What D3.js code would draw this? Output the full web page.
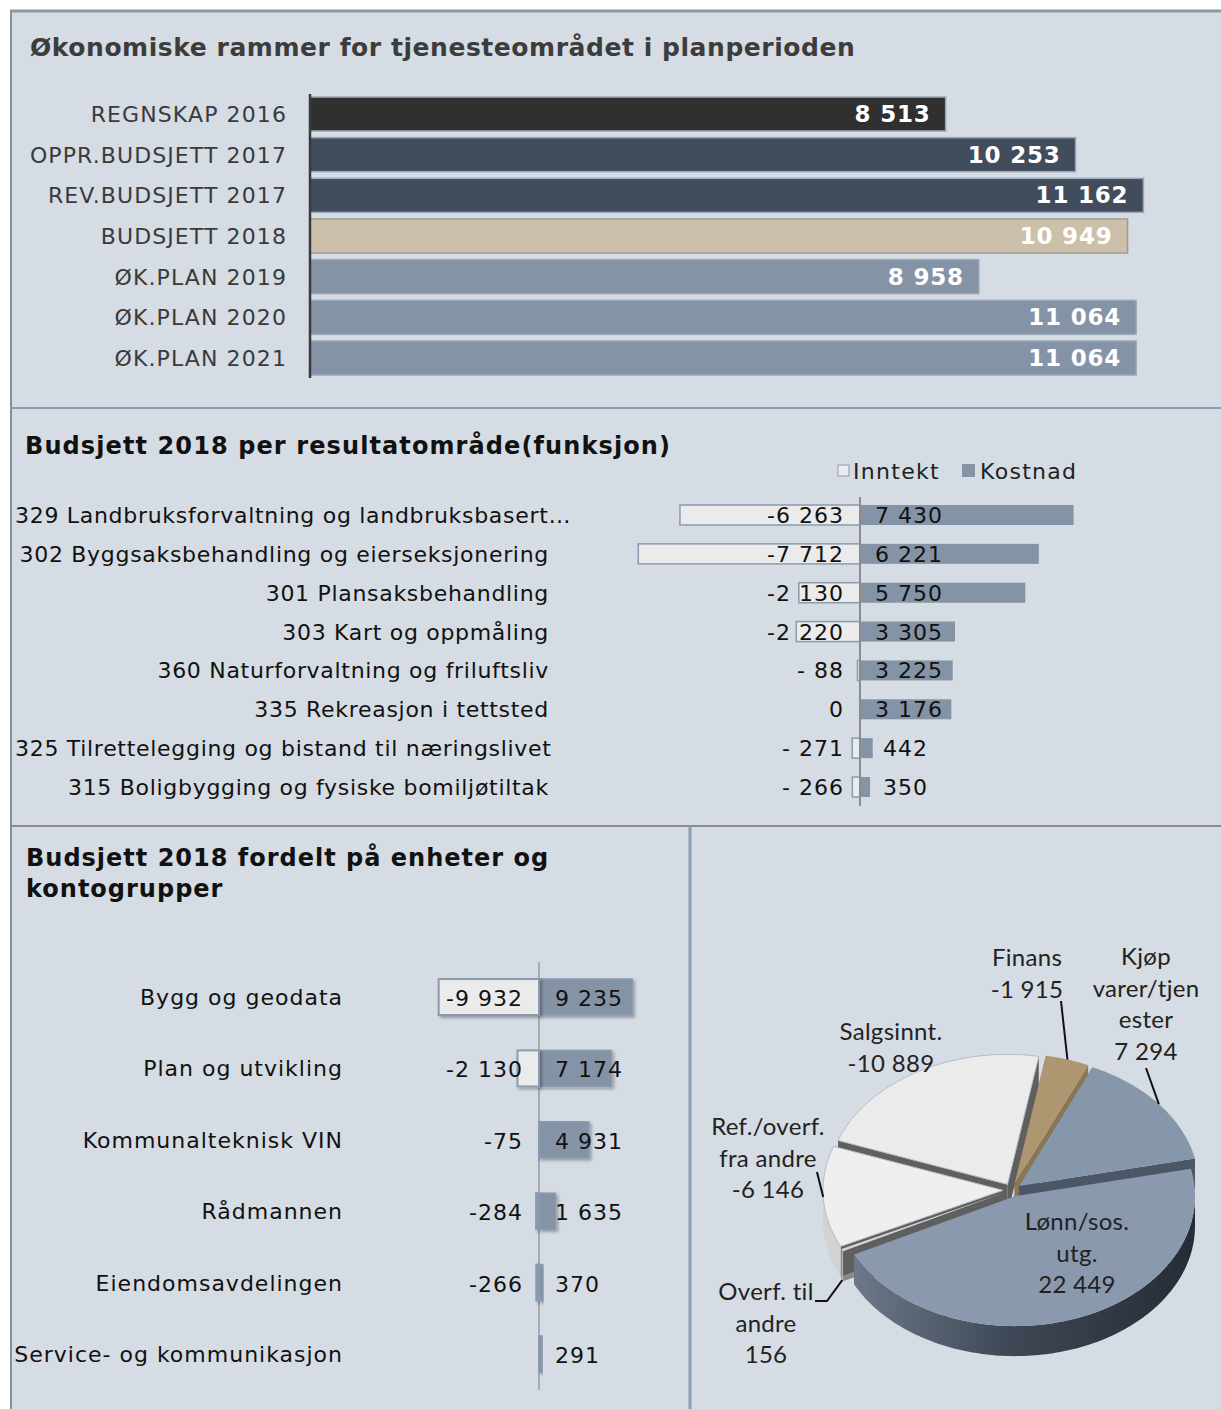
<!DOCTYPE html>
<html lang="no">
<head>
<meta charset="UTF-8">
<title>Økonomiske rammer for tjenesteområdet</title>
<style>
  body { margin: 0; background: #fff; }
  svg { display: block; font-family: "DejaVu Sans", Verdana, sans-serif; }
</style>
</head>
<body>
<div id="chart"></div>
<script src="https://d3js.org/d3.v7.min.js"></script>
<script>
// ---- data ----
const periodLabels = ["REGNSKAP 2016", "OPPR.BUDSJETT 2017", "REV.BUDSJETT 2017", "BUDSJETT 2018",
                      "ØK.PLAN 2019", "ØK.PLAN 2020", "ØK.PLAN 2021"];
const periodValues = [8513, 10253, 11162, 10949, 8958, 11064, 11064];

const funcLabels = ["329 Landbruksforvaltning og landbruksbasert…", "302 Byggsaksbehandling og eierseksjonering",
                    "301 Plansaksbehandling", "303 Kart og oppmåling", "360 Naturforvaltning og friluftsliv",
                    "335 Rekreasjon i tettsted", "325 Tilrettelegging og bistand til næringslivet",
                    "315 Boligbygging og fysiske bomiljøtiltak"];
const funcIncome = [-6263, -7712, -2130, -2220, -88, 0, -271, -266];
const funcCost = [7430, 6221, 5750, 3305, 3225, 3176, 442, 350];
const seriesNames = ["Inntekt", "Kostnad"];

const unitLabels = ["Bygg og geodata", "Plan og utvikling", "Kommunalteknisk VIN", "Rådmannen",
                    "Eiendomsavdelingen", "Service- og kommunikasjon"];
const unitIncome = [-9932, -2130, -75, -284, -266, 0];
const unitCost = [9235, 7174, 4931, 1635, 370, 291];

const pieLabels = [["Finans"], ["Kjøp", "varer/tjen", "ester"], ["Lønn/sos.", "utg."], ["Overf. til", "andre"],
                   ["Ref./overf.", "fra andre"], ["Salgsinnt."]];
const pieValues = [-1915, 7294, 22449, 156, -6146, -10889];

// ---- setup ----
const W = 1221, H = 1409;
const locale = d3.formatLocale({decimal: ",", thousands: " ", grouping: [3], currency: ["", ""], minus: "-"});
const fmt = locale.format(",d");

const svg = d3.select("#chart").append("svg").attr("width", W).attr("height", H);
const defs = svg.append("defs");
const shadow = defs.append("filter").attr("id", "shadow").attr("x", "-20%").attr("y", "-20%")
  .attr("width", "150%").attr("height", "160%");
shadow.append("feDropShadow").attr("dx", 2).attr("dy", 2).attr("stdDeviation", 1.5)
  .attr("flood-color", "#000").attr("flood-opacity", 0.3);
const lonnSide = defs.append("linearGradient").attr("id", "lonnSide");
lonnSide.append("stop").attr("offset", "0%").attr("stop-color", "#6d7888");
lonnSide.append("stop").attr("offset", "45%").attr("stop-color", "#3f4856");
lonnSide.append("stop").attr("offset", "100%").attr("stop-color", "#262c35");

// panel backgrounds + frames
svg.append("rect").attr("x", 10).attr("y", 10).attr("width", W - 10).attr("height", H - 10).attr("fill", "#d5dce3");
svg.append("line").attr("x1", 10).attr("x2", W).attr("y1", 11).attr("y2", 11).attr("stroke", "#8897aa").attr("stroke-width", 3);
svg.append("line").attr("x1", 11).attr("x2", 11).attr("y1", 10).attr("y2", H).attr("stroke", "#8a8f96").attr("stroke-width", 2);
svg.append("line").attr("x1", 10).attr("x2", W).attr("y1", 408).attr("y2", 408).attr("stroke", "#8b9bb0").attr("stroke-width", 2);
svg.append("line").attr("x1", 10).attr("x2", W).attr("y1", 826).attr("y2", 826).attr("stroke", "#8a8a8a").attr("stroke-width", 2);
svg.append("line").attr("x1", 690).attr("x2", 690).attr("y1", 826).attr("y2", H).attr("stroke", "#8b9bb0").attr("stroke-width", 3);

// ================= panel 1 =================
svg.append("text").attr("x", 30).attr("y", 56).attr("font-size", 25).attr("font-weight", "bold")
  .attr("letter-spacing", 0.55).attr("fill", "#3c3c3c")
  .text("Økonomiske rammer for tjenesteområdet i planperioden");

const y1 = d3.scalePoint().domain(periodLabels).range([114, 358]);
const x1 = d3.scaleLinear().domain([0, 12000]).range([310, 1206]);
const periodColors = ["#303030", "#414d5c", "#414d5c", "#cdc0aa", "#8593a6", "#8593a6", "#8593a6"];
const p1 = svg.append("g");
p1.selectAll("rect").data(periodValues).join("rect")
  .attr("x", x1(0)).attr("y", (d, i) => y1(periodLabels[i]) - 17)
  .attr("width", d => x1(d) - x1(0)).attr("height", 34)
  .attr("fill", (d, i) => periodColors[i])
  .attr("stroke", (d, i) => i === 3 ? "#a09a90" : "#9aa7b7").attr("stroke-width", 1.5);
p1.selectAll("text.val").data(periodValues).join("text").attr("class", "val")
  .attr("x", d => x1(d) - 15).attr("y", (d, i) => y1(periodLabels[i]) + 8)
  .attr("text-anchor", "end").attr("font-size", 23).attr("font-weight", "bold")
  .attr("letter-spacing", 0.8).attr("fill", "#fff")
  .text(d => fmt(d));
p1.selectAll("text.lab").data(periodLabels).join("text").attr("class", "lab")
  .attr("x", 287).attr("y", d => y1(d) + 8).attr("text-anchor", "end")
  .attr("font-size", 22).attr("letter-spacing", 1.1).attr("fill", "#3a3a3a").text(d => d);
p1.append("line").attr("x1", 310).attr("x2", 310).attr("y1", 94).attr("y2", 378)
  .attr("stroke", "#3a3a3a").attr("stroke-width", 2.5);

// ================= panel 2 =================
svg.append("text").attr("x", 25).attr("y", 454).attr("font-size", 24).attr("font-weight", "bold")
  .attr("letter-spacing", 1.1).attr("fill", "#111").text("Budsjett 2018 per resultatområde(funksjon)");

// legend
const leg = svg.append("g").attr("font-size", 22).attr("letter-spacing", 1.3).attr("fill", "#222");
leg.append("rect").attr("x", 838).attr("y", 465).attr("width", 11).attr("height", 11)
  .attr("fill", "#ececec").attr("stroke", "#8a9bb0");
leg.append("text").attr("x", 853).attr("y", 479).text(seriesNames[0]);
leg.append("rect").attr("x", 962).attr("y", 464).attr("width", 13).attr("height", 13).attr("fill", "#8593a6");
leg.append("text").attr("x", 980).attr("y", 479).text(seriesNames[1]);

const y2 = d3.scalePoint().domain(funcLabels).range([515, 787]);
const x2 = d3.scaleLinear().domain([-8000, 8000]).range([630, 1090]);
const fmtNeg2 = v => (v < 0 && v > -1000) ? "- " + fmt(-v) : fmt(v);
const p2 = svg.append("g");
p2.selectAll("rect.inc").data(funcIncome).join("rect").attr("class", "inc")
  .attr("x", d => x2(d)).attr("y", (d, i) => y2(funcLabels[i]) - 10)
  .attr("width", d => x2(0) - x2(d)).attr("height", 20)
  .attr("fill", "#ebebeb").attr("stroke", "#8a9bb0").attr("stroke-width", d => d === 0 ? 0 : 1.5);
p2.selectAll("rect.cost").data(funcCost).join("rect").attr("class", "cost")
  .attr("x", x2(0)).attr("y", (d, i) => y2(funcLabels[i]) - 10)
  .attr("width", d => x2(d) - x2(0)).attr("height", 20).attr("fill", "#8593a6");
p2.append("line").attr("x1", x2(0)).attr("x2", x2(0)).attr("y1", 497).attr("y2", 806)
  .attr("stroke", "#8c8c8c").attr("stroke-width", 2);
p2.selectAll("text.inc").data(funcIncome).join("text").attr("class", "inc")
  .attr("x", 844).attr("y", (d, i) => y2(funcLabels[i]) + 8).attr("text-anchor", "end")
  .attr("font-size", 22).attr("letter-spacing", 1).attr("fill", "#111").text(d => fmtNeg2(d));
p2.selectAll("text.cost").data(funcCost).join("text").attr("class", "cost")
  .attr("x", (d) => x2(d) - x2(0) > 40 ? 875 : 883).attr("y", (d, i) => y2(funcLabels[i]) + 8)
  .attr("font-size", 22).attr("letter-spacing", 1).attr("fill", "#111").text(d => fmt(d));
p2.selectAll("text.lab").data(funcLabels).join("text").attr("class", "lab")
  .attr("x", 549).attr("y", d => y2(d) + 8).attr("text-anchor", "end")
  .attr("font-size", 22).attr("letter-spacing", 0.7).attr("fill", "#111").text(d => d)
  .each(function () {
    if (this.getComputedTextLength() > 535) d3.select(this).attr("x", 15).attr("text-anchor", "start");
  });

// ================= panel 3 =================
svg.append("text").attr("font-size", 24).attr("font-weight", "bold").attr("letter-spacing", 1)
  .attr("fill", "#111")
  .selectAll("tspan").data(["Budsjett 2018 fordelt på enheter og", "kontogrupper"]).join("tspan")
  .attr("x", 26).attr("y", (d, i) => 866 + i * 31).text(d => d);

const y3 = d3.scalePoint().domain(unitLabels).range([997, 1354]);
const x3 = d3.scaleLinear().domain([-10000, 10000]).range([438, 640]);
const p3 = svg.append("g");
p3.append("line").attr("x1", x3(0)).attr("x2", x3(0)).attr("y1", 962).attr("y2", 1390)
  .attr("stroke", "#7a7a7a").attr("stroke-width", 1);
p3.selectAll("rect.cost").data(unitCost).join("rect").attr("class", "cost")
  .attr("x", x3(0)).attr("y", (d, i) => y3(unitLabels[i]) - 18)
  .attr("width", d => x3(d) - x3(0)).attr("height", 36)
  .attr("fill", "#8593a6").attr("stroke", "#8a9bb0").attr("stroke-width", 1.5).attr("filter", "url(#shadow)");
p3.selectAll("rect.inc").data(unitIncome).join("rect").attr("class", "inc")
  .attr("x", d => x3(d)).attr("y", (d, i) => y3(unitLabels[i]) - 18)
  .attr("width", d => x3(0) - x3(d)).attr("height", 36)
  .attr("fill", d => d > -500 ? "#8593a6" : "#ebebeb").attr("stroke", "#8a9bb0")
  .attr("stroke-width", d => d === 0 ? 0 : 2).attr("filter", "url(#shadow)");
p3.selectAll("text.inc").data(unitIncome).join("text").attr("class", "inc")
  .attr("x", 523).attr("y", (d, i) => y3(unitLabels[i]) + 9).attr("text-anchor", "end")
  .attr("font-size", 22).attr("letter-spacing", 1).attr("fill", "#111").text(d => d === 0 ? "" : fmt(d));
p3.selectAll("text.cost").data(unitCost).join("text").attr("class", "cost")
  .attr("x", 555).attr("y", (d, i) => y3(unitLabels[i]) + 9)
  .attr("font-size", 22).attr("letter-spacing", 1).attr("fill", "#111").text(d => fmt(d));
p3.selectAll("text.lab").data(unitLabels).join("text").attr("class", "lab")
  .attr("x", 343).attr("y", d => y3(d) + 8).attr("text-anchor", "end")
  .attr("font-size", 22).attr("letter-spacing", 1).attr("fill", "#111").text(d => d);

// ================= panel 4: 3D pie =================
const P = {cx: 1012, cy: 1190, rx: 180, ry: 130, depth: 30, explode: 9};
const pieStart = 10 * Math.PI / 180;
const arcs = d3.pie().sort(null).value(d => Math.abs(d))
  .startAngle(pieStart).endAngle(pieStart + 2 * Math.PI)(pieValues);
const topFill = ["#ae9670", "#8797ab", "#8a99ad", "#d6d6d6", "#efefef", "#ebebeb"];
const cutFill = ["#8b7652", "#4b5666", "#4b5666", "#8a8a8a", "#5f5f5f", "#5f5f5f"];
const wallFill = ["#8b7652", "#4b5666", "url(#lonnSide)", "#b0b0b0", "#d2d2d2", "#d2d2d2"];

function offset(d) {
  const m = (d.startAngle + d.endAngle) / 2;
  return [P.explode * Math.sin(m), -P.explode * Math.cos(m) * P.ry / P.rx];
}
function pt(a, off, z) {
  return [P.cx + off[0] + P.rx * Math.sin(a), P.cy + off[1] - P.ry * Math.cos(a) + z];
}
function rim(a0, a1, off, z) {
  const n = Math.max(2, Math.ceil((a1 - a0) / 0.02));
  return d3.range(n + 1).map(i => pt(a0 + (a1 - a0) * i / n, off, z));
}
const line = d3.line();
const pieG = svg.append("g");

// radial cut faces
arcs.forEach((d, i) => {
  const off = offset(d);
  const c = [P.cx + off[0], P.cy + off[1]];
  [d.startAngle, d.endAngle].forEach(a => {
    const p = pt(a, off, 0);
    pieG.append("path").attr("d", line([c, p, [p[0], p[1] + P.depth], [c[0], c[1] + P.depth]]) + "Z")
      .attr("fill", cutFill[i]);
  });
});
// outer front walls
arcs.forEach((d, i) => {
  const off = offset(d);
  [[Math.PI / 2, 3 * Math.PI / 2], [Math.PI / 2 + 2 * Math.PI, 3 * Math.PI / 2 + 2 * Math.PI]].forEach(([f0, f1]) => {
    const lo = Math.max(d.startAngle, f0), hi = Math.min(d.endAngle, f1);
    if (lo >= hi) return;
    const pts = rim(lo, hi, off, 0).concat(rim(lo, hi, off, P.depth).reverse());
    pieG.append("path").attr("d", line(pts) + "Z").attr("fill", wallFill[i]);
  });
});
// tops
arcs.forEach((d, i) => {
  const off = offset(d);
  const pts = [[P.cx + off[0], P.cy + off[1]]].concat(rim(d.startAngle, d.endAngle, off, 0));
  pieG.append("path").attr("d", line(pts) + "Z").attr("fill", topFill[i])
    .attr("stroke", i >= 4 ? "#b4bcc8" : "none").attr("stroke-width", 1);
});

// labels and leader lines
const pieLayout = [
  {x: 1027, y: 966, lead: [[1061, 1001]], z: 0},
  {x: 1146, y: 965, lead: [[1146, 1068]], z: 0},
  {x: 1077, y: 1230, lead: null},
  {x: 766, y: 1300, lead: [[815, 1301], [827, 1301]], z: P.depth},
  {x: 768, y: 1135, lead: [[817, 1172]], z: 0},
  {x: 891, y: 1040, lead: null}
];
const pieText = svg.append("g").attr("font-family", "Lato, 'Open Sans', sans-serif")
  .attr("font-size", 24).attr("letter-spacing", 0.3).attr("fill", "#222").attr("text-anchor", "middle");
arcs.forEach((d, i) => {
  const L = pieLayout[i];
  const lines = pieLabels[i].concat([fmt(pieValues[i])]);
  pieText.append("text").selectAll("tspan").data(lines).join("tspan")
    .attr("x", L.x).attr("y", (s, k) => L.y + k * 31.5).text(s => s);
  if (L.lead) {
    const m = (d.startAngle + d.endAngle) / 2;
    const end = pt(m, offset(d), L.z);
    pieG.append("path").attr("d", line(L.lead.concat([end])))
      .attr("fill", "none").attr("stroke", "#111").attr("stroke-width", 2);
  }
});
</script>
</body>
</html>
